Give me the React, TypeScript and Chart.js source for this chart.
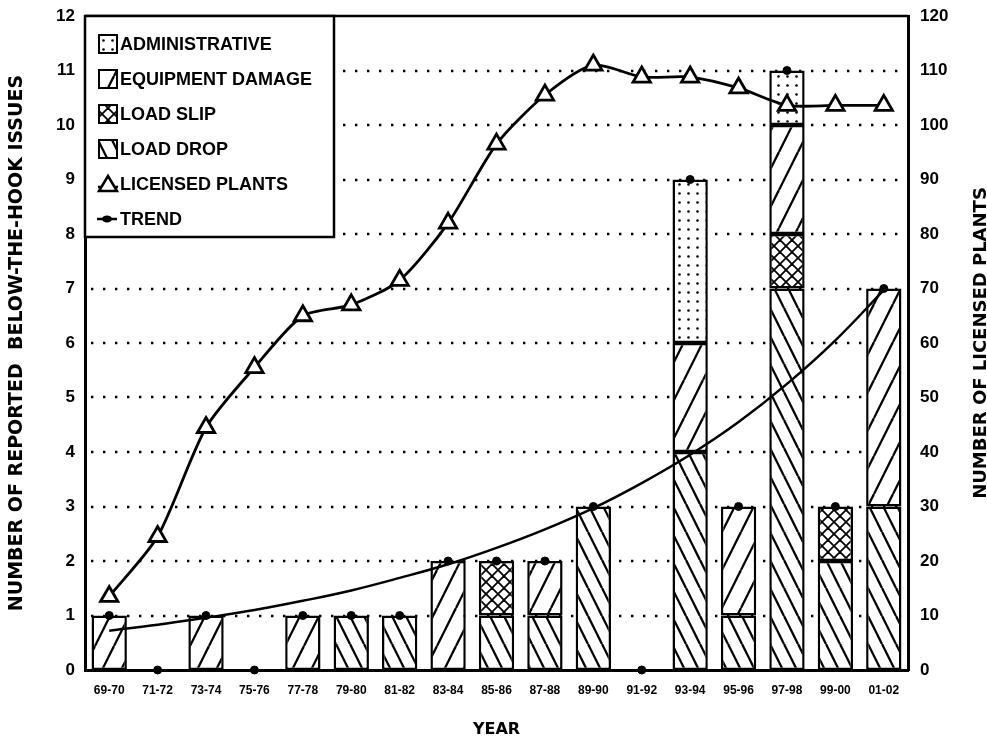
import React, { useEffect, useRef } from "react";
import { Chart, registerables } from "chart.js";

Chart.register(...registerables);

const categories = ["69-70", "71-72", "73-74", "75-76", "77-78", "79-80", "81-82", "83-84", "85-86", "87-88", "89-90", "91-92", "93-94", "95-96", "97-98", "99-00", "01-02"];
const loadDrop = [0, 0, 0, 0, 0, 1, 1, 0, 1, 1, 3, 0, 4, 1, 7, 2, 3];
const loadSlip = [0, 0, 0, 0, 0, 0, 0, 0, 1, 0, 0, 0, 0, 0, 1, 1, 0];
const equipmentDamage = [1, 0, 1, 0, 1, 0, 0, 2, 0, 1, 0, 0, 2, 2, 2, 0, 4];
const administrative = [0, 0, 0, 0, 0, 0, 0, 0, 0, 0, 0, 0, 3, 0, 1, 0, 0];
const totals = [1, 0, 1, 0, 1, 1, 1, 2, 2, 2, 3, 0, 9, 3, 11, 3, 7];
const trendCurve = [0.72, 0.83, 0.96, 1.1, 1.27, 1.46, 1.69, 1.94, 2.24, 2.58, 2.97, 3.43, 3.95, 4.55, 5.25, 6.05, 6.97];
const licensedPlants = [13.5, 24.5, 44.5, 55.5, 65, 67, 71.5, 82, 96.5, 105.5, 111, 108.8, 108.8, 106.8, 103.6, 103.6, 103.6];
const leftTicks = [0, 1, 2, 3, 4, 5, 6, 7, 8, 9, 10, 11, 12];
const rightTicks = [0, 10, 20, 30, 40, 50, 60, 70, 80, 90, 100, 110, 120];

const TITLE_FONT = "'DejaVu Sans', sans-serif";
const LABEL_FONT = "'Liberation Sans', Arial, sans-serif";

function makePattern(kind: string): CanvasPattern | string {
  const c = document.createElement("canvas");
  let w = 16, h = 16;
  if (kind === "fwd") { w = 19; h = 38; }
  if (kind === "back") { w = 14; h = 28; }
  if (kind === "cross") { w = 12; h = 12; }
  if (kind === "dots") { w = 9; h = 9; }
  c.width = w; c.height = h;
  const g = c.getContext("2d")!;
  g.fillStyle = "#fff";
  g.fillRect(0, 0, w, h);
  g.strokeStyle = "#000";
  g.fillStyle = "#000";
  g.lineWidth = 2.3;
  if (kind === "fwd") {
    for (const dx of [-w, 0, w]) {
      g.beginPath(); g.moveTo(dx, h); g.lineTo(dx + w, 0); g.stroke();
    }
  } else if (kind === "back") {
    for (const dx of [-w, 0, w]) {
      g.beginPath(); g.moveTo(dx, 0); g.lineTo(dx + w, h); g.stroke();
    }
  } else if (kind === "cross") {
    g.lineWidth = 1.8;
    for (const dx of [-w, 0, w]) {
      g.beginPath(); g.moveTo(dx, 0); g.lineTo(dx + w, h); g.stroke();
      g.beginPath(); g.moveTo(dx, h); g.lineTo(dx + w, 0); g.stroke();
    }
  } else if (kind === "dots") {
    g.beginPath(); g.arc(4.5, 4.5, 1.3, 0, Math.PI * 2); g.fill();
  }
  return g.createPattern(c, "repeat") || "#fff";
}

const nz = (arr: number[]) => arr.map((v) => (v === 0 ? null : v));

export default function App() {
  const ref = useRef<HTMLCanvasElement | null>(null);

  useEffect(() => {
    if (!ref.current) return;
    const pDots = makePattern("dots");
    const pFwd = makePattern("fwd");
    const pCross = makePattern("cross");
    const pBack = makePattern("back");

    const gridPlugin = {
      id: "dottedGrid",
      beforeDatasetsDraw(chart: any) {
        const { ctx, chartArea } = chart;
        const ys = chart.scales.y;
        ctx.save();
        ctx.strokeStyle = "#000";
        ctx.lineWidth = 2.4;
        ctx.setLineDash([2.4, 9.6]);
        for (let v = 1; v <= 11; v++) {
          const y = Math.round(ys.getPixelForValue(v));
          ctx.beginPath();
          ctx.moveTo(chartArea.left + 6, y);
          ctx.lineTo(chartArea.right, y);
          ctx.stroke();
        }
        ctx.setLineDash([]);
        ctx.lineWidth = 2.5;
        const yt = ys.getPixelForValue(12);
        ctx.beginPath();
        ctx.moveTo(chartArea.left, yt);
        ctx.lineTo(chartArea.right, yt);
        ctx.stroke();
        ctx.restore();
      },
    };

    const legendPlugin = {
      id: "boxLegend",
      afterDatasetsDraw(chart: any) {
        const { ctx, chartArea } = chart;
        const x0 = chartArea.left;
        const y0 = chartArea.top;
        const w = 249, h = 221;
        ctx.save();
        ctx.fillStyle = "#fff";
        ctx.fillRect(x0, y0, w, h);
        ctx.strokeStyle = "#000";
        ctx.lineWidth = 2.5;
        ctx.strokeRect(x0, y0, w, h);
        const items = [
          { label: "ADMINISTRATIVE", fill: pDots, kind: "box" },
          { label: "EQUIPMENT DAMAGE", fill: pFwd, kind: "box" },
          { label: "LOAD SLIP", fill: pCross, kind: "box" },
          { label: "LOAD DROP", fill: pBack, kind: "box" },
          { label: "LICENSED PLANTS", fill: "#fff", kind: "tri" },
          { label: "TREND", fill: "#000", kind: "dot" },
        ];
        ctx.font = `bold 18px ${LABEL_FONT}`;
        ctx.textBaseline = "middle";
        items.forEach((it, i) => {
          const cy = y0 + 28 + i * 35;
          const ix = x0 + 14;
          if (it.kind === "box") {
            ctx.fillStyle = it.fill as any;
            ctx.fillRect(ix, cy - 9, 18, 18);
            ctx.lineWidth = 2;
            ctx.strokeStyle = "#000";
            ctx.strokeRect(ix, cy - 9, 18, 18);
          } else if (it.kind === "tri") {
            ctx.lineWidth = 2.5;
            ctx.beginPath();
            ctx.moveTo(ix - 1, cy + 3);
            ctx.lineTo(ix + 19, cy + 3);
            ctx.stroke();
            ctx.beginPath();
            ctx.moveTo(ix + 9, cy - 8);
            ctx.lineTo(ix + 18, cy + 7);
            ctx.lineTo(ix, cy + 7);
            ctx.closePath();
            ctx.fillStyle = "#fff";
            ctx.fill();
            ctx.stroke();
          } else {
            ctx.lineWidth = 2.5;
            ctx.beginPath();
            ctx.moveTo(ix - 2, cy);
            ctx.lineTo(ix + 18, cy);
            ctx.stroke();
            ctx.beginPath();
            ctx.ellipse(ix + 8, cy, 5, 3.5, 0, 0, Math.PI * 2);
            ctx.fillStyle = "#000";
            ctx.fill();
          }
          ctx.fillStyle = "#000";
          ctx.fillText(it.label, ix + 21, cy + 1);
        });
        ctx.restore();
      },
    };

    const rightTitlePlugin = {
      id: "rightTitle",
      afterDraw(chart: any) {
        const { ctx, chartArea } = chart;
        ctx.save();
        ctx.translate(chart.width - 6, (chartArea.top + chartArea.bottom) / 2);
        ctx.rotate(-Math.PI / 2);
        ctx.font = `bold 18px ${TITLE_FONT}`;
        ctx.fillStyle = "#000";
        ctx.textAlign = "center";
        ctx.textBaseline = "middle";
        ctx.fillText("NUMBER OF LICENSED PLANTS", 0, 0);
        ctx.restore();
      },
    };

    const barCommon = {
      type: "bar" as const,
      yAxisID: "y",
      borderColor: "#000",
      borderWidth: 2.5,
      borderSkipped: false,
      barPercentage: 0.73,
      categoryPercentage: 1,
      stack: "issues",
      order: 2,
    };

    const noPad = (s: any) => {
      s.paddingTop = 0;
      s.paddingBottom = 0;
      s.paddingLeft = 0;
      s.paddingRight = 0;
    };

    const chart = new Chart(ref.current, {
      type: "bar",
      data: {
        labels: categories,
        datasets: [
          { ...barCommon, label: "LOAD DROP", data: nz(loadDrop), backgroundColor: pBack },
          { ...barCommon, label: "LOAD SLIP", data: nz(loadSlip), backgroundColor: pCross },
          { ...barCommon, label: "EQUIPMENT DAMAGE", data: nz(equipmentDamage), backgroundColor: pFwd },
          { ...barCommon, label: "ADMINISTRATIVE", data: nz(administrative), backgroundColor: pDots },
          {
            type: "line",
            label: "TREND",
            data: trendCurve,
            yAxisID: "y",
            borderColor: "#000",
            borderWidth: 2.5,
            pointRadius: 0,
            tension: 0.4,
            fill: false,
            order: 1,
          },
          {
            type: "line",
            label: "TREND POINTS",
            data: totals,
            yAxisID: "y",
            showLine: false,
            pointRadius: 4,
            pointBackgroundColor: "#000",
            pointBorderColor: "#000",
            clip: false,
            order: 1,
          },
          {
            type: "line",
            label: "LICENSED PLANTS",
            data: licensedPlants,
            yAxisID: "y1",
            borderColor: "#000",
            borderWidth: 2.8,
            tension: 0.25,
            pointStyle: "triangle",
            pointRadius: 10,
            pointBackgroundColor: "#fff",
            pointBorderColor: "#000",
            pointBorderWidth: 2.8,
            clip: false,
            fill: false,
            order: 0,
          },
        ] as any,
      },
      options: {
        animation: false,
        responsive: false,
        layout: { padding: { top: 16, left: 0, right: 0, bottom: 0 } },
        plugins: {
          legend: { display: false },
          tooltip: { enabled: false },
        },
        scales: {
          x: {
            type: "category",
            grid: { display: false, drawTicks: false },
            border: { display: true, color: "#000", width: 3 },
            ticks: {
              color: "#000",
              font: { family: LABEL_FONT, weight: "bold", size: 12 },
              padding: 13,
              maxRotation: 0,
              autoSkip: false,
            },
            title: {
              display: true,
              text: "YEAR",
              color: "#000",
              font: { family: TITLE_FONT, weight: "bold", size: 16, lineHeight: 1 },
              padding: { top: 0, bottom: 0 },
            },
            afterFit: (s: any) => { s.height = 68; noPad(s); },
          },
          y: {
            position: "left",
            min: 0,
            max: 12,
            afterBuildTicks: (s: any) => { s.ticks = leftTicks.map((v) => ({ value: v })); },
            grid: { display: false, drawTicks: false },
            border: { display: true, color: "#000", width: 3 },
            ticks: {
              color: "#000",
              font: { family: LABEL_FONT, weight: "bold", size: 17 },
              padding: 10,
            },
            title: {
              display: true,
              text: "NUMBER OF REPORTED  BELOW-THE-HOOK ISSUES",
              color: "#000",
              font: { family: TITLE_FONT, weight: "bold", size: 19, lineHeight: 1 },
              padding: { top: 8, bottom: 0 },
            },
            afterFit: (s: any) => { s.width = 85; noPad(s); },
          },
          y1: {
            position: "right",
            min: 0,
            max: 120,
            afterBuildTicks: (s: any) => { s.ticks = rightTicks.map((v) => ({ value: v })); },
            grid: { display: false, drawTicks: false },
            border: { display: true, color: "#000", width: 3 },
            ticks: {
              color: "#000",
              font: { family: LABEL_FONT, weight: "bold", size: 17 },
              padding: 12,
            },
            afterFit: (s: any) => { s.width = 79; noPad(s); },
          },
        },
      } as any,
      plugins: [gridPlugin, legendPlugin, rightTitlePlugin],
    });
    return () => chart.destroy();
  }, []);

  return (
    <div style={{ position: "fixed", left: 0, top: 0, width: 987, height: 738, background: "#fff" }}>
      <canvas ref={ref} width={987} height={738} style={{ display: "block" }} />
    </div>
  );
}
